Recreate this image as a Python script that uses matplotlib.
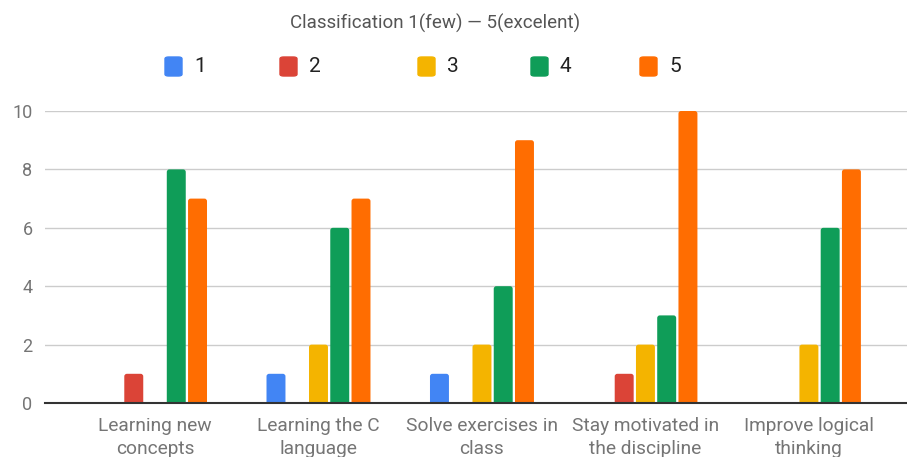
import matplotlib
matplotlib.use("Agg")
import matplotlib.pyplot as plt
from matplotlib.patches import FancyBboxPatch
import numpy as np

plt.rcParams['font.family'] = ['Roboto', 'DejaVu Sans']

categories = ["Learning new\nconcepts", "Learning the C\nlanguage", "Solve exercises in\nclass",
              "Stay motivated in\nthe discipline", "Improve logical\nthinking"]
series_names = ["1", "2", "3", "4", "5"]
score_1 = [0, 1, 1, 0, 0]
score_2 = [1, 0, 0, 1, 0]
score_3 = [0, 2, 2, 2, 2]
score_4 = [8, 6, 4, 3, 6]
score_5 = [7, 7, 9, 10, 8]
yticks = [0, 2, 4, 6, 8, 10]
title = "Classification 1(few) \u2014 5(excelent)"

series = [score_1, score_2, score_3, score_4, score_5]
colors = ["#4285F4", "#DB4437", "#F4B400", "#0F9D58", "#FF6D01"]

W, H = 907, 457
fig = plt.figure(figsize=(W / 100, H / 100), dpi=100)
ax_w_px, ax_h_px = 907 - 45, 403 - 111
ax = fig.add_axes([45 / W, (H - 403) / H, ax_w_px / W, ax_h_px / H])

xlim = (-0.673, 4.6)
ylim = (0, 10)
ax.set_xlim(*xlim)
ax.set_ylim(*ylim)

# aspect of one data unit in y relative to x, in screen pixels
aspect = ((ylim[1] - ylim[0]) / ax_h_px) / ((xlim[1] - xlim[0]) / ax_w_px)

x = np.arange(len(categories))
slot = 0.130
width = 0.116
for k, (vals, c) in enumerate(zip(series, colors)):
    offs = (k - 2) * slot
    for xi, v in zip(x, vals):
        if v <= 0:
            continue
        bar = FancyBboxPatch((xi + offs - width / 2, -0.2), width, v + 0.2,
                             boxstyle="round,pad=0,rounding_size=0.016",
                             mutation_aspect=aspect, facecolor=c, edgecolor="none",
                             zorder=3)
        ax.add_patch(bar)

ax.set_yticks(yticks)
ax.set_yticklabels([str(t) for t in yticks], fontsize=13, color="#757575")
ax.set_xticks(x)
ax.set_xticklabels(categories, fontsize=13.8, color="#757575", linespacing=1.35)
ax.tick_params(axis='both', length=0)
ax.tick_params(axis='y', pad=9)
ax.tick_params(axis='x', pad=10)
ax.grid(axis='y', color="#cccccc", linewidth=1, zorder=0)
for s in ["top", "right", "left"]:
    ax.spines[s].set_visible(False)
ax.spines["bottom"].set_color("#333333")
ax.spines["bottom"].set_linewidth(1.5)
ax.spines["bottom"].set_zorder(4)

fig.text(435 / W, 1 - 23 / H, title, ha="center", va="center", fontsize=13.5, color="#555555")

legend_x = [165, 280, 418, 531, 640]
for lx, name, c in zip(legend_x, series_names, colors):
    fig.patches.append(FancyBboxPatch((lx / W, 1 - 76 / H), 17 / W, 19 / H,
                                      boxstyle="round,pad=0,rounding_size=0.004",
                                      transform=fig.transFigure, color=c, figure=fig))
    fig.text((lx + 29) / W, 1 - 66 / H, name, ha="left", va="center", fontsize=15, color="#222222")

fig.savefig("out.png", dpi=100)
